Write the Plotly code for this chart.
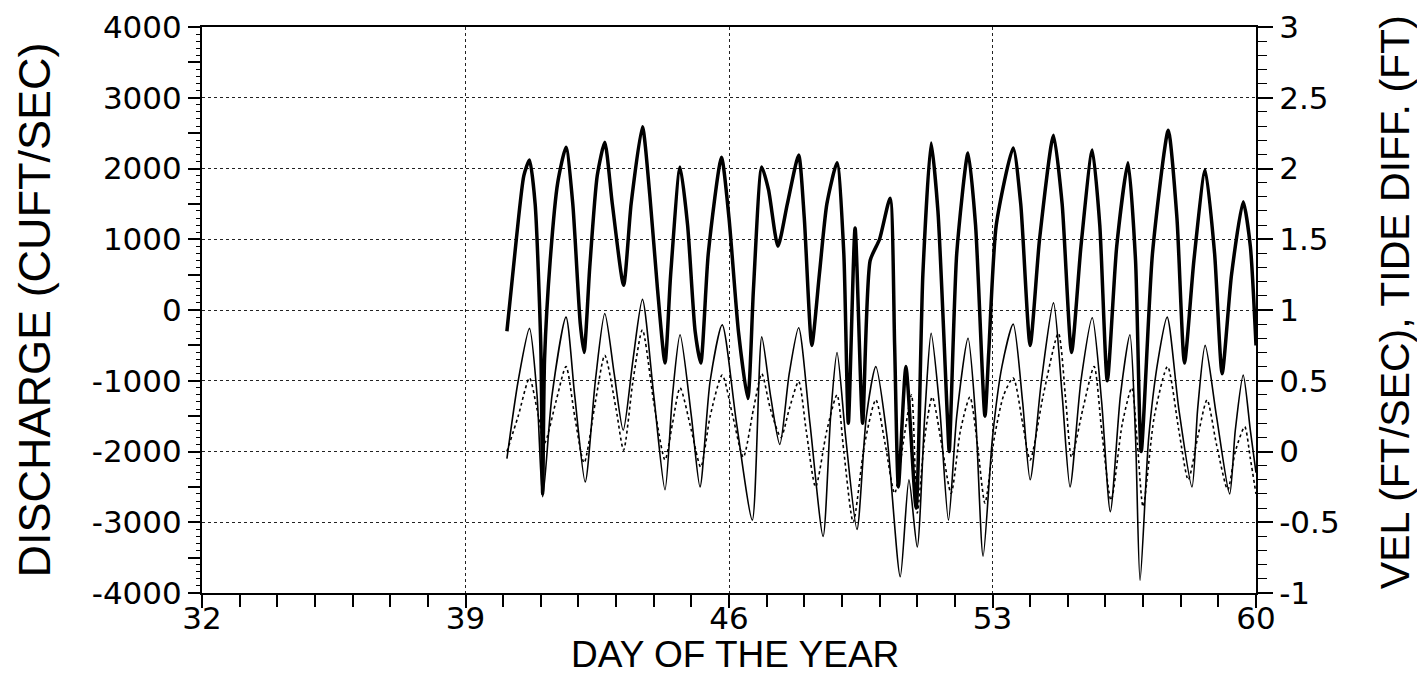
import plotly.graph_objects as go

# ---------------- data ----------------
# Discharge (cubic ft / sec), left axis
Q_DAYS = [40.10, 40.35, 40.55, 40.70, 40.85, 41.00, 41.05, 41.10, 41.25, 41.45, 41.67, 41.85,
          42.05, 42.15, 42.30, 42.50, 42.70, 42.90, 43.20, 43.40, 43.70, 43.90, 44.10, 44.30,
          44.45, 44.70, 44.90, 45.10, 45.25, 45.45, 45.80, 46.00, 46.25, 46.50, 46.65, 46.87,
          47.05, 47.30, 47.55, 47.85, 48.00, 48.20, 48.40, 48.60, 48.87, 49.05, 49.17, 49.35,
          49.55, 49.75, 50.00, 50.28, 50.40, 50.50, 50.70, 50.97, 51.15, 51.37, 51.55, 51.80,
          51.85, 52.05, 52.35, 52.55, 52.80, 52.90, 53.10, 53.55, 53.75, 54.00, 54.25, 54.62,
          54.85, 55.10, 55.35, 55.65, 55.85, 56.05, 56.30, 56.60, 56.80, 56.95, 57.25, 57.67,
          57.90, 58.10, 58.35, 58.65, 58.90, 59.10, 59.35, 59.66, 59.85, 60.00]
Q_VALUES = [-300, 1000, 1900, 2120, 1500, -500, -2600, -700, 700, 1800, 2300, 1500,
            -200, -600, 600, 1900, 2370, 1500, 350, 1500, 2590, 1600, 300, -750,
            500, 2020, 1200, -300, -750, 800, 2160, 1300, -300, -1250, 300, 2020,
            1700, 900, 1500, 2190, 1300, -500, 500, 1500, 2080, 800, -1600, 1160,
            -1600, 700, 1000, 1580, -500, -2500, -800, -2800, 500, 2360, 1400, -1500,
            -2000, 800, 2220, 1200, -1500, -600, 1200, 2290, 1500, -500, 1000, 2470,
            1500, -600, 900, 2260, 1200, -1000, 900, 2080, 700, -2000, 800, 2540,
            1300, -750, 700, 1980, 800, -900, 500, 1530, 900, -500]

# Velocity (ft / sec), right axis
V_DAYS = [40.10, 40.40, 40.70, 40.90, 41.05, 41.30, 41.67, 41.90, 42.18, 42.45, 42.70, 42.95,
          43.19, 43.45, 43.70, 44.00, 44.30, 44.50, 44.70, 45.00, 45.23, 45.50, 45.82, 46.20,
          46.62, 46.87, 47.10, 47.35, 47.60, 47.85, 48.15, 48.50, 48.70, 48.87, 49.10, 49.40,
          49.65, 49.90, 50.20, 50.55, 50.78, 51.00, 51.20, 51.37, 51.60, 51.83, 52.05, 52.35,
          52.55, 52.75, 53.00, 53.25, 53.55, 53.80, 54.00, 54.30, 54.62, 54.85, 55.06, 55.35,
          55.65, 55.90, 56.13, 56.40, 56.65, 56.80, 56.92, 57.15, 57.40, 57.64, 57.95, 58.30,
          58.45, 58.65, 58.95, 59.30, 59.45, 59.66, 59.85, 60.00]
V_VALUES = [-0.05, 0.50, 0.87, 0.40, -0.32, 0.40, 0.95, 0.40, -0.215, 0.50, 0.975, 0.55,
            0.15, 0.65, 1.075, 0.40, -0.27, 0.40, 0.825, 0.25, -0.25, 0.50, 0.895, 0.20,
            -0.485, 0.81, 0.40, 0.05, 0.55, 0.875, 0.20, -0.60, 0.25, 0.70, 0.10, -0.55,
            0.25, 0.60, 0.10, -0.885, -0.20, -0.675, 0.25, 0.835, 0.30, -0.485, 0.25, 0.80,
            0.25, -0.74, 0.10, 0.60, 0.90, 0.35, -0.20, 0.50, 1.05, 0.40, -0.25, 0.50,
            0.945, 0.35, -0.425, 0.40, 0.825, 0.10, -0.91, 0.10, 0.65, 0.95, 0.30, -0.25,
            0.30, 0.75, 0.25, -0.30, 0.15, 0.54, 0.15, -0.15]

# Tide difference (ft), right axis
T_DAYS = [40.10, 40.40, 40.70, 40.90, 41.10, 41.40, 41.67, 41.90, 42.15, 42.45, 42.70, 43.00,
          43.20, 43.45, 43.70, 44.00, 44.30, 44.50, 44.70, 45.00, 45.25, 45.50, 45.82, 46.10,
          46.38, 46.65, 46.87, 47.10, 47.38, 47.60, 47.85, 48.05, 48.30, 48.60, 48.87, 49.05,
          49.30, 49.60, 49.90, 50.15, 50.40, 50.65, 50.85, 51.00, 51.20, 51.40, 51.65, 51.90,
          52.15, 52.40, 52.60, 52.80, 53.05, 53.30, 53.55, 53.80, 54.00, 54.35, 54.75, 54.95,
          55.10, 55.40, 55.70, 55.90, 56.15, 56.45, 56.70, 56.85, 57.00, 57.30, 57.65, 57.95,
          58.20, 58.45, 58.70, 58.95, 59.25, 59.45, 59.70, 59.85, 60.00]
T_VALUES = [0.00, 0.25, 0.52, 0.30, 0.06, 0.35, 0.60, 0.25, -0.08, 0.35, 0.68, 0.30,
            0.01, 0.50, 0.86, 0.35, -0.06, 0.20, 0.45, 0.15, -0.11, 0.25, 0.54, 0.25,
            -0.04, 0.30, 0.55, 0.30, 0.10, 0.30, 0.495, 0.15, -0.25, 0.15, 0.40, 0.00,
            -0.50, 0.05, 0.365, 0.05, -0.295, 0.10, 0.40, -0.435, 0.10, 0.385, 0.05, -0.295,
            0.15, 0.385, 0.05, -0.365, 0.10, 0.40, 0.52, 0.20, -0.06, 0.40, 0.835, 0.35,
            -0.04, 0.30, 0.60, 0.15, -0.345, 0.20, 0.45, 0.05, -0.39, 0.25, 0.60, 0.15,
            -0.20, 0.10, 0.365, 0.05, -0.27, 0.00, 0.175, -0.05, -0.30]

X_TICKS = [32, 39, 46, 53, 60]
Y_LEFT_TICKS = list(range(-4000, 4001, 500))
Y_LEFT_LABELS = [str(v) if v % 1000 == 0 else "" for v in Y_LEFT_TICKS]
Y_RIGHT_TICKS = [-1, -0.5, 0, 0.5, 1, 1.5, 2, 2.5, 3]
Y_RIGHT_LABELS = ["-1", "-0.5", "0", "0.5", "1", "1.5", "2", "2.5", "3"]

FONT = "Liberation Sans, Arial, sans-serif"
TICK_FONT = dict(family="DejaVu Sans, sans-serif", size=31, color="black")

fig = go.Figure()

fig.add_trace(go.Scatter(x=V_DAYS, y=V_VALUES, yaxis="y2", mode="lines",
                         line=dict(color="black", width=1.6, shape="spline", smoothing=0.7),
                         name="Velocity", showlegend=False))
fig.add_trace(go.Scatter(x=T_DAYS, y=T_VALUES, yaxis="y2", mode="lines",
                         line=dict(color="black", width=1.6, dash="dot", shape="spline", smoothing=0.7),
                         name="Tide difference", showlegend=False))
fig.add_trace(go.Scatter(x=Q_DAYS, y=Q_VALUES, yaxis="y", mode="lines",
                         line=dict(color="black", width=3.5, shape="spline", smoothing=0.6),
                         name="Discharge", showlegend=False))

fig.update_layout(
    width=1417, height=685,
    margin=dict(l=194, r=169, t=19, b=100, autoexpand=False),
    plot_bgcolor="white", paper_bgcolor="white",
    font=dict(family=FONT, color="black"),
    xaxis=dict(
        range=[32, 60], tickmode="array", tickvals=X_TICKS,
        ticktext=[str(v) for v in X_TICKS], automargin=False,
        showline=True, linecolor="black", linewidth=2, mirror=True,
        ticks="outside", ticklen=13, tickwidth=1.5, tickcolor="black",
        tickfont=TICK_FONT, ticklabelstandoff=-16,
        showgrid=True, gridcolor="#222222", gridwidth=1, griddash="dot",
        zeroline=False,
        minor=dict(dtick=1, tick0=32, ticks="outside", ticklen=12, tickwidth=1.5,
                   tickcolor="black", showgrid=False),
    ),
    yaxis=dict(
        range=[-4000, 4000], tickmode="array", tickvals=Y_LEFT_TICKS, ticktext=Y_LEFT_LABELS,
        automargin=False,
        showline=True, linecolor="black", linewidth=2,
        ticks="outside", ticklen=12, tickwidth=1.5, tickcolor="black",
        tickfont=TICK_FONT, showgrid=False, zeroline=False,
        minor=dict(dtick=100, tick0=0, ticks="outside", ticklen=4, tickwidth=1,
                   tickcolor="black", showgrid=False),
    ),
    yaxis2=dict(
        range=[-1, 3], overlaying="y", side="right", tickmode="array",
        tickvals=Y_RIGHT_TICKS, ticktext=Y_RIGHT_LABELS, automargin=False,
        showline=True, linecolor="black", linewidth=2,
        ticks="outside", ticklen=15, tickwidth=1.5, tickcolor="black",
        tickfont=TICK_FONT,
        showgrid=True, gridcolor="#222222", gridwidth=1, griddash="dot",
        zeroline=False,
        minor=dict(dtick=0.1, tick0=0, ticks="outside", ticklen=9, tickwidth=1,
                   tickcolor="black", showgrid=False),
    ),
    annotations=[
        dict(text="DAY OF THE YEAR", xref="paper", yref="paper", x=0.506, y=-0.108,
             xanchor="center", yanchor="middle", showarrow=False,
             font=dict(family=FONT, size=37, color="black")),
        dict(text="DISCHARGE (CUFT/SEC)", xref="paper", yref="paper", x=-0.159, y=0.5,
             xanchor="center", yanchor="middle", textangle=-90, showarrow=False,
             font=dict(family=FONT, size=45, color="black")),
        dict(text="VEL (FT/SEC), TIDE DIFF. (FT)", xref="paper", yref="paper", x=1.132, y=0.514,
             xanchor="center", yanchor="middle", textangle=-90, showarrow=False,
             font=dict(family=FONT, size=41, color="black")),
    ],
)

fig.write_html("out.html")
